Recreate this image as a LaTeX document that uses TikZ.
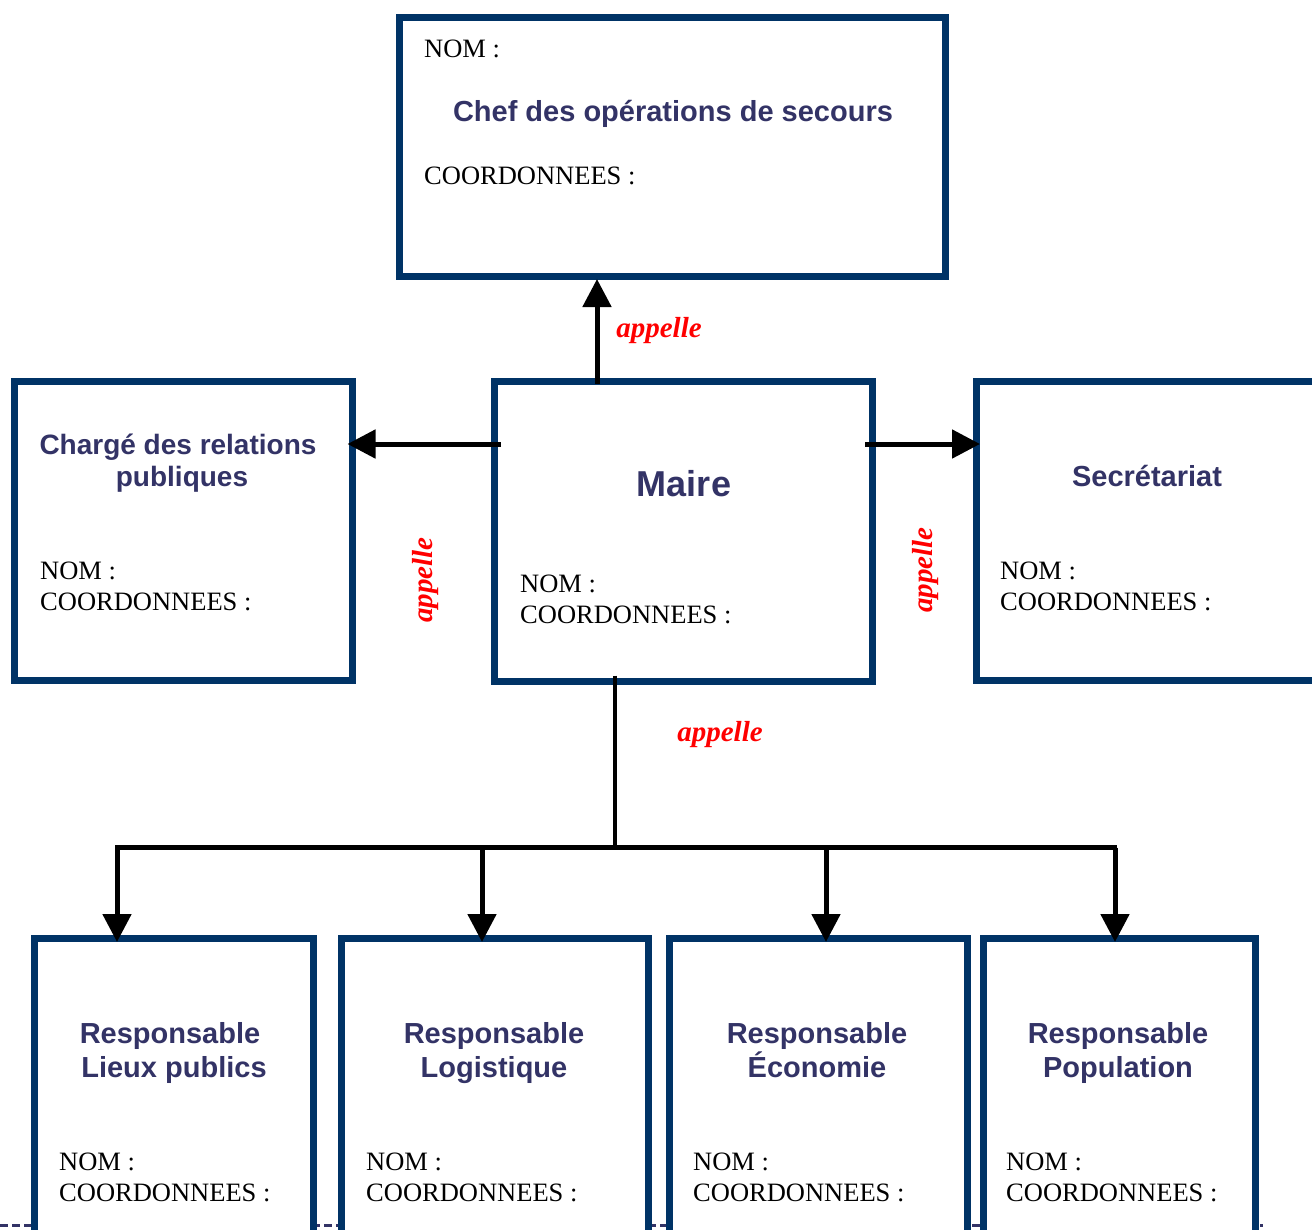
\documentclass[tikz,border=0pt]{standalone}
\usepackage{fontspec}
\setmainfont{Liberation Serif}
\newfontfamily\titlefont{Liberation Sans}
\usetikzlibrary{arrows.meta}
\definecolor{boxblue}{RGB}{0,51,102}
\definecolor{titleblue}{RGB}{51,51,102}
\begin{document}
\begin{tikzpicture}[x=1pt,y=-1pt,
  box/.style={draw=boxblue, line width=7pt, fill=white, rectangle, inner sep=0pt, outer sep=0pt, anchor=north west},
  ttl/.style={text=titleblue, font=\titlefont\bfseries\fontsize{29}{34}\selectfont, anchor=base, inner sep=0pt},
  lbl/.style={font=\fontsize{26.5}{31}\selectfont, anchor=base west, inner sep=0pt},
  call/.style={text=red, font=\bfseries\itshape\fontsize{29}{34}\selectfont, inner sep=0pt},
  arr/.style={line width=5pt, -{Triangle[length=28pt,width=28pt]}},
  conn/.style={line width=4.5pt}]
\clip (0,0) rectangle (1312,1229);
\fill[white] (0,0) rectangle (1312,1229);
% page border remnant
\draw[titleblue, line width=3pt, dash pattern=on 8pt off 4pt] (0,1225) -- (1263,1225);

% boxes
\node[box, minimum width=546, minimum height=259] (cos) at (399.5,17) {};
\node[box, minimum width=338, minimum height=299] (charge) at (14.5,381.5) {};
\node[box, minimum width=378, minimum height=300.5] (maire) at (494,381) {};
\node[box, minimum width=364, minimum height=299] (secr) at (976,381.5) {};
\node[box, minimum width=279, minimum height=342] (r1) at (34.5,938.5) {};
\node[box, minimum width=307, minimum height=342] (r2) at (341,938.5) {};
\node[box, minimum width=298.5, minimum height=342] (r3) at (669,938.5) {};
\node[box, minimum width=272, minimum height=342] (r4) at (983,938.5) {};

% texts: COS
\node[lbl] (cosnom) at (424,57) {NOM :};
\node[ttl] (costtl) at (673,121) {Chef des opérations de secours};
\node[lbl] (coscoord) at (424,184) {COORDONNEES :};
% Charge
\node[ttl, font=\titlefont\bfseries\fontsize{28}{34}\selectfont] (chtl1) at (178,454) {Chargé des relations};
\node[ttl, font=\titlefont\bfseries\fontsize{28}{34}\selectfont] (chtl2) at (182,486) {publiques};
\node[lbl] (chnom) at (40,579) {NOM :};
\node[lbl] (chcoord) at (40,610) {COORDONNEES :};
% Maire
\node[ttl, font=\titlefont\bfseries\fontsize{36}{40}\selectfont] (mtl) at (684,496) {Maire};
\node[lbl] (mnom) at (520,592) {NOM :};
\node[lbl] (mcoord) at (520,623) {COORDONNEES :};
% Secretariat
\node[ttl] (stl) at (1147,486) {Secrétariat};
\node[lbl] (snom) at (1000,579) {NOM :};
\node[lbl] (scoord) at (1000,610) {COORDONNEES :};
% bottom
\node[ttl] (r1a) at (170,1043) {Responsable};
\node[ttl] (r1b) at (174,1077) {Lieux publics};
\node[lbl] (r1n) at (59,1170) {NOM :};
\node[lbl] (r1c) at (59,1201) {COORDONNEES :};
\node[ttl] (r2a) at (494,1043) {Responsable};
\node[ttl] (r2b) at (494,1077) {Logistique};
\node[lbl] (r2n) at (366,1170) {NOM :};
\node[lbl] (r2c) at (366,1201) {COORDONNEES :};
\node[ttl] (r3a) at (817,1043) {Responsable};
\node[ttl] (r3b) at (817,1077) {Économie};
\node[lbl] (r3n) at (693,1170) {NOM :};
\node[lbl] (r3c) at (693,1201) {COORDONNEES :};
\node[ttl] (r4a) at (1118,1043) {Responsable};
\node[ttl] (r4b) at (1118,1077) {Population};
\node[lbl] (r4n) at (1006,1170) {NOM :};
\node[lbl] (r4c) at (1006,1201) {COORDONNEES :};

% connectors
\draw[arr, shorten >=3pt] ([shift={(103,3)}]maire.north west) -- ([xshift=103pt]maire.north west |- cos.south);
\coordinate (lstart) at ([shift={(7,63)}]maire.north west);
\coordinate (rstart) at ([shift={(-7,63)}]maire.north east);
\draw[arr, shorten >=-5pt] (lstart) -- (charge.east |- lstart);
\draw[arr, shorten >=-4pt] (rstart) -- (secr.west |- rstart);
\coordinate (bus) at ([shift={(121,166)}]maire.south west);
\draw[conn] ([shift={(121,-6)}]maire.south west) -- (bus);
\draw[conn, line cap=rect] ([xshift=82.5pt]r1.north west |- bus) -- ([xshift=132pt]r4.north west |- bus);
\draw[arr, shorten >=-3.5pt] ([xshift=82.5pt]r1.north west |- bus) -- ([xshift=82.5pt]r1.north west);
\draw[arr, shorten >=-3.5pt] ([xshift=141pt]r2.north west |- bus) -- ([xshift=141pt]r2.north west);
\draw[arr, shorten >=-3.5pt] ([xshift=157pt]r3.north west |- bus) -- ([xshift=157pt]r3.north west);
\draw[arr, shorten >=-3.5pt] ([xshift=132pt]r4.north west |- bus) -- ([xshift=132pt]r4.north west);

% labels
\node[call] (c1) at (659,331) {appelle};
\node[call, rotate=90] (c2) at (426,580) {appelle};
\node[call, rotate=90] (c3) at (926,570) {appelle};
\node[call] (c4) at (720,735) {appelle};
\end{tikzpicture}
\end{document}
